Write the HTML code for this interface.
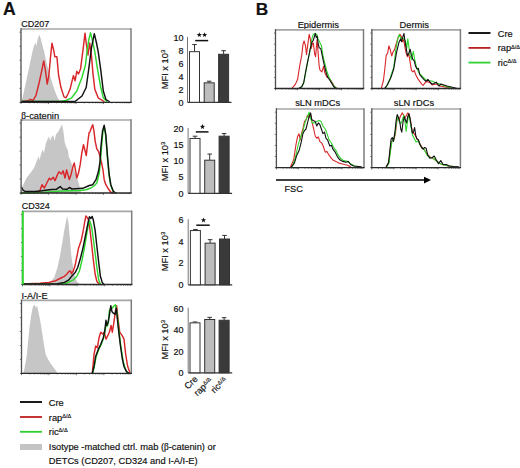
<!DOCTYPE html>
<html><head><meta charset="utf-8"><style>
html,body{margin:0;padding:0;background:#fff;}
svg{display:block;}
text{font-family:"Liberation Sans", sans-serif;fill:#111;stroke:#111;stroke-width:0.18px;}
</style></head><body>
<svg width="520" height="468" viewBox="0 0 520 468">
<rect width="520" height="468" fill="#fff"/>
<text x="2.9" y="14.5" font-size="17.6" text-anchor="start" font-weight="bold" >A</text>
<text x="255.8" y="14.6" font-size="17.3" text-anchor="start" font-weight="bold" >B</text>
<text x="21.3" y="27.2" font-size="9" text-anchor="start" font-weight="normal" >CD207</text>
<polygon points="21.0,102.3 22.4,98.5 25.6,84.0 28.6,70.0 30.8,59.5 32.8,50.0 34.3,45.0 35.2,42.5 36.3,46.0 37.5,40.0 38.4,37.0 39.4,34.4 40.5,38.0 41.3,41.0 42.4,45.0 43.2,48.5 44.2,51.5 45.3,57.0 46.8,64.0 49.4,74.0 52.0,82.0 54.5,90.0 57.7,98.0 60.0,101.0 61.5,102.3" fill="#c6c6c6" stroke="none"/>
<text x="21.3" y="119.2" font-size="9.3" text-anchor="start" font-weight="normal" ><tspan font-family="Liberation Serif">β</tspan>-catenin</text>
<polygon points="21.3,193.0 21.6,188.0 26.5,178.0 31.4,171.7 34.6,166.8 37.0,160.3 38.7,156.0 39.5,160.3 41.1,153.8 42.8,149.5 44.0,153.0 45.7,144.0 47.6,139.1 49.0,136.5 50.0,140.8 51.7,136.7 53.3,134.9 54.5,140.8 56.1,134.3 58.2,131.8 60.3,127.8 62.0,124.3 63.6,132.6 64.7,142.4 66.3,147.3 68.0,150.5 68.8,157.0 70.4,160.3 72.8,166.8 75.3,173.3 77.7,179.8 79.2,185.0 80.3,190.0 81.0,193.0" fill="#c6c6c6" stroke="none"/>
<text x="21.8" y="209.2" font-size="9" text-anchor="start" font-weight="normal" >CD324</text>
<polygon points="47.0,284.5 48.5,283.0 51.0,281.0 54.0,278.0 57.5,267.5 60.1,255.3 62.8,239.5 64.5,229.0 66.3,220.3 67.1,215.9 68.4,222.0 69.8,237.8 71.5,257.0 72.9,265.8 74.1,274.5 76.8,281.5 80.3,284.5" fill="#c6c6c6" stroke="none"/>
<text x="21.5" y="298.6" font-size="9.2" text-anchor="start" font-weight="normal" >I-A/I-E</text>
<polygon points="23.0,373.4 24.2,369.7 26.7,356.3 28.3,339.7 29.7,326.3 31.3,314.7 33.0,306.3 34.7,304.7 35.8,308.0 37.0,305.5 38.7,313.0 40.3,321.3 42.5,334.7 44.2,346.3 45.8,354.7 48.3,359.7 50.8,363.8 53.3,367.2 55.8,370.5 57.5,373.4" fill="#c6c6c6" stroke="none"/>
<polyline points="22.0,101.5 26.0,101.0 28.0,100.8 30.4,99.3 33.0,100.5 36.0,95.3 39.2,82.5 41.6,71.3 43.7,60.9 45.3,69.7 47.2,84.0 48.8,76.0 50.4,58.4 52.0,43.2 53.7,50.4 54.9,56.8 56.9,56.8 58.5,74.5 60.9,87.3 64.0,96.9 65.9,97.8 68.0,94.0 70.0,89.3 73.4,75.6 75.1,80.7 76.8,71.3 78.5,73.9 80.6,68.7 82.8,51.6 85.0,33.2 86.2,43.0 88.0,55.0 89.7,43.0 91.4,55.0 93.0,73.9 94.8,89.2 98.2,97.8 104.0,101.5" fill="none" stroke="#d8262a" stroke-width="1.45" stroke-linejoin="round" stroke-linecap="round"/>
<polyline points="22.0,101.5 60.0,101.5 66.0,100.5 71.7,97.8 76.8,91.0 82.0,77.3 85.4,65.3 87.0,51.6 88.8,39.7 90.5,32.8 92.2,39.7 94.8,51.6 97.4,68.7 100.8,87.5 103.3,97.8 106.8,101.5" fill="none" stroke="#2fd62f" stroke-width="1.45" stroke-linejoin="round" stroke-linecap="round"/>
<polyline points="22.0,101.5 75.0,101.5 82.0,96.0 86.2,87.5 88.8,68.7 91.4,48.2 94.3,33.7 96.5,43.0 98.2,51.6 100.8,70.4 103.3,91.0 105.9,99.5 109.3,101.5" fill="none" stroke="#111" stroke-width="1.45" stroke-linejoin="round" stroke-linecap="round"/>
<line x1="19.4" y1="102.3" x2="21" y2="102.3" stroke="#666" stroke-width="0.9"/>
<line x1="20" y1="95.3" x2="21" y2="95.3" stroke="#999" stroke-width="0.8"/>
<line x1="19.4" y1="88.3" x2="21" y2="88.3" stroke="#666" stroke-width="0.9"/>
<line x1="20" y1="81.3" x2="21" y2="81.3" stroke="#999" stroke-width="0.8"/>
<line x1="19.4" y1="74.3" x2="21" y2="74.3" stroke="#666" stroke-width="0.9"/>
<line x1="20" y1="67.2" x2="21" y2="67.2" stroke="#999" stroke-width="0.8"/>
<line x1="19.4" y1="60.2" x2="21" y2="60.2" stroke="#666" stroke-width="0.9"/>
<line x1="20" y1="53.2" x2="21" y2="53.2" stroke="#999" stroke-width="0.8"/>
<line x1="19.4" y1="46.2" x2="21" y2="46.2" stroke="#666" stroke-width="0.9"/>
<line x1="20" y1="39.2" x2="21" y2="39.2" stroke="#999" stroke-width="0.8"/>
<line x1="19.4" y1="32.2" x2="21" y2="32.2" stroke="#666" stroke-width="0.9"/>
<line x1="21.0" y1="102.3" x2="21.0" y2="104.1" stroke="#555" stroke-width="0.8"/>
<line x1="29.3" y1="102.3" x2="29.3" y2="103.39999999999999" stroke="#555" stroke-width="0.8"/>
<line x1="34.1" y1="102.3" x2="34.1" y2="103.39999999999999" stroke="#555" stroke-width="0.8"/>
<line x1="37.6" y1="102.3" x2="37.6" y2="103.39999999999999" stroke="#555" stroke-width="0.8"/>
<line x1="40.2" y1="102.3" x2="40.2" y2="103.39999999999999" stroke="#555" stroke-width="0.8"/>
<line x1="42.4" y1="102.3" x2="42.4" y2="103.39999999999999" stroke="#555" stroke-width="0.8"/>
<line x1="44.2" y1="102.3" x2="44.2" y2="103.39999999999999" stroke="#555" stroke-width="0.8"/>
<line x1="45.8" y1="102.3" x2="45.8" y2="103.39999999999999" stroke="#555" stroke-width="0.8"/>
<line x1="47.2" y1="102.3" x2="47.2" y2="103.39999999999999" stroke="#555" stroke-width="0.8"/>
<line x1="48.5" y1="102.3" x2="48.5" y2="104.1" stroke="#555" stroke-width="0.8"/>
<line x1="56.8" y1="102.3" x2="56.8" y2="103.39999999999999" stroke="#555" stroke-width="0.8"/>
<line x1="61.6" y1="102.3" x2="61.6" y2="103.39999999999999" stroke="#555" stroke-width="0.8"/>
<line x1="65.1" y1="102.3" x2="65.1" y2="103.39999999999999" stroke="#555" stroke-width="0.8"/>
<line x1="67.7" y1="102.3" x2="67.7" y2="103.39999999999999" stroke="#555" stroke-width="0.8"/>
<line x1="69.9" y1="102.3" x2="69.9" y2="103.39999999999999" stroke="#555" stroke-width="0.8"/>
<line x1="71.7" y1="102.3" x2="71.7" y2="103.39999999999999" stroke="#555" stroke-width="0.8"/>
<line x1="73.3" y1="102.3" x2="73.3" y2="103.39999999999999" stroke="#555" stroke-width="0.8"/>
<line x1="74.7" y1="102.3" x2="74.7" y2="103.39999999999999" stroke="#555" stroke-width="0.8"/>
<line x1="76.0" y1="102.3" x2="76.0" y2="104.1" stroke="#555" stroke-width="0.8"/>
<line x1="84.3" y1="102.3" x2="84.3" y2="103.39999999999999" stroke="#555" stroke-width="0.8"/>
<line x1="89.1" y1="102.3" x2="89.1" y2="103.39999999999999" stroke="#555" stroke-width="0.8"/>
<line x1="92.6" y1="102.3" x2="92.6" y2="103.39999999999999" stroke="#555" stroke-width="0.8"/>
<line x1="95.2" y1="102.3" x2="95.2" y2="103.39999999999999" stroke="#555" stroke-width="0.8"/>
<line x1="97.4" y1="102.3" x2="97.4" y2="103.39999999999999" stroke="#555" stroke-width="0.8"/>
<line x1="99.2" y1="102.3" x2="99.2" y2="103.39999999999999" stroke="#555" stroke-width="0.8"/>
<line x1="100.8" y1="102.3" x2="100.8" y2="103.39999999999999" stroke="#555" stroke-width="0.8"/>
<line x1="102.2" y1="102.3" x2="102.2" y2="103.39999999999999" stroke="#555" stroke-width="0.8"/>
<line x1="103.5" y1="102.3" x2="103.5" y2="104.1" stroke="#555" stroke-width="0.8"/>
<line x1="111.8" y1="102.3" x2="111.8" y2="103.39999999999999" stroke="#555" stroke-width="0.8"/>
<line x1="116.6" y1="102.3" x2="116.6" y2="103.39999999999999" stroke="#555" stroke-width="0.8"/>
<line x1="120.1" y1="102.3" x2="120.1" y2="103.39999999999999" stroke="#555" stroke-width="0.8"/>
<line x1="122.7" y1="102.3" x2="122.7" y2="103.39999999999999" stroke="#555" stroke-width="0.8"/>
<line x1="124.9" y1="102.3" x2="124.9" y2="103.39999999999999" stroke="#555" stroke-width="0.8"/>
<line x1="126.7" y1="102.3" x2="126.7" y2="103.39999999999999" stroke="#555" stroke-width="0.8"/>
<line x1="128.3" y1="102.3" x2="128.3" y2="103.39999999999999" stroke="#555" stroke-width="0.8"/>
<line x1="129.7" y1="102.3" x2="129.7" y2="103.39999999999999" stroke="#555" stroke-width="0.8"/>
<line x1="21" y1="29" x2="131" y2="29" stroke="#a6a6a6" stroke-width="1.6"/>
<line x1="131" y1="28.2" x2="131" y2="102.3" stroke="#7c7c7c" stroke-width="1.5"/>
<line x1="21" y1="28.2" x2="21" y2="102.89999999999999" stroke="#505050" stroke-width="1.3"/>
<line x1="20.4" y1="102.3" x2="131.7" y2="102.3" stroke="#2a2a2a" stroke-width="1.3"/>
<polyline points="22.0,193.0 38.0,192.5 39.5,192.0 42.0,184.7 44.4,188.0 46.8,183.0 49.3,178.2 50.9,179.8 53.3,177.3 55.0,180.6 57.4,174.9 59.0,171.7 61.5,174.0 63.1,170.8 65.0,178.0 66.6,170.0 68.0,175.0 69.3,179.5 71.0,174.7 73.0,166.3 74.3,163.0 75.7,171.3 76.8,178.0 78.5,173.0 80.2,164.7 81.8,153.0 83.5,144.7 85.2,151.3 86.3,155.5 87.7,143.0 89.0,133.0 90.2,131.3 91.3,128.0 92.7,124.7 94.0,131.3 95.2,141.3 96.8,148.8 98.5,151.3 100.0,156.3 101.8,164.0 103.0,170.0 104.2,179.7 105.8,184.7 108.3,188.8 110.8,192.2 113.0,193.0" fill="none" stroke="#d8262a" stroke-width="1.45" stroke-linejoin="round" stroke-linecap="round"/>
<polyline points="22.0,193.0 45.0,192.2 55.0,191.5 62.0,191.0 70.0,190.8 80.0,190.5 86.0,189.7 91.0,188.0 94.0,186.0 96.8,183.0 99.3,173.0 100.5,160.0 101.7,145.0 103.0,131.0 104.2,127.0 105.6,134.7 107.3,156.3 109.0,174.7 110.6,184.7 113.0,191.3 115.5,193.0" fill="none" stroke="#2fd62f" stroke-width="1.45" stroke-linejoin="round" stroke-linecap="round"/>
<polyline points="21.6,187.5 23.0,190.0 25.0,191.5 35.0,191.5 42.0,190.8 51.5,189.5 56.6,189.2 60.2,186.6 62.6,189.0 67.2,189.3 69.3,187.5 72.0,189.0 82.7,188.3 89.3,185.5 92.7,184.7 96.0,179.7 98.5,171.3 100.0,162.0 100.8,148.0 102.5,131.3 104.2,125.3 105.8,134.7 107.5,156.3 109.2,174.7 110.8,184.7 113.3,191.3 115.8,193.0" fill="none" stroke="#111" stroke-width="1.45" stroke-linejoin="round" stroke-linecap="round"/>
<line x1="19.5" y1="193.0" x2="21.1" y2="193.0" stroke="#666" stroke-width="0.9"/>
<line x1="20.1" y1="186.0" x2="21.1" y2="186.0" stroke="#999" stroke-width="0.8"/>
<line x1="19.5" y1="179.0" x2="21.1" y2="179.0" stroke="#666" stroke-width="0.9"/>
<line x1="20.1" y1="172.1" x2="21.1" y2="172.1" stroke="#999" stroke-width="0.8"/>
<line x1="19.5" y1="165.1" x2="21.1" y2="165.1" stroke="#666" stroke-width="0.9"/>
<line x1="20.1" y1="158.1" x2="21.1" y2="158.1" stroke="#999" stroke-width="0.8"/>
<line x1="19.5" y1="151.1" x2="21.1" y2="151.1" stroke="#666" stroke-width="0.9"/>
<line x1="20.1" y1="144.1" x2="21.1" y2="144.1" stroke="#999" stroke-width="0.8"/>
<line x1="19.5" y1="137.2" x2="21.1" y2="137.2" stroke="#666" stroke-width="0.9"/>
<line x1="20.1" y1="130.2" x2="21.1" y2="130.2" stroke="#999" stroke-width="0.8"/>
<line x1="19.5" y1="123.2" x2="21.1" y2="123.2" stroke="#666" stroke-width="0.9"/>
<line x1="21.1" y1="193" x2="21.1" y2="194.8" stroke="#555" stroke-width="0.8"/>
<line x1="29.4" y1="193" x2="29.4" y2="194.1" stroke="#555" stroke-width="0.8"/>
<line x1="34.2" y1="193" x2="34.2" y2="194.1" stroke="#555" stroke-width="0.8"/>
<line x1="37.6" y1="193" x2="37.6" y2="194.1" stroke="#555" stroke-width="0.8"/>
<line x1="40.3" y1="193" x2="40.3" y2="194.1" stroke="#555" stroke-width="0.8"/>
<line x1="42.5" y1="193" x2="42.5" y2="194.1" stroke="#555" stroke-width="0.8"/>
<line x1="44.3" y1="193" x2="44.3" y2="194.1" stroke="#555" stroke-width="0.8"/>
<line x1="45.9" y1="193" x2="45.9" y2="194.1" stroke="#555" stroke-width="0.8"/>
<line x1="47.3" y1="193" x2="47.3" y2="194.1" stroke="#555" stroke-width="0.8"/>
<line x1="48.6" y1="193" x2="48.6" y2="194.8" stroke="#555" stroke-width="0.8"/>
<line x1="56.8" y1="193" x2="56.8" y2="194.1" stroke="#555" stroke-width="0.8"/>
<line x1="61.7" y1="193" x2="61.7" y2="194.1" stroke="#555" stroke-width="0.8"/>
<line x1="65.1" y1="193" x2="65.1" y2="194.1" stroke="#555" stroke-width="0.8"/>
<line x1="67.8" y1="193" x2="67.8" y2="194.1" stroke="#555" stroke-width="0.8"/>
<line x1="70.0" y1="193" x2="70.0" y2="194.1" stroke="#555" stroke-width="0.8"/>
<line x1="71.8" y1="193" x2="71.8" y2="194.1" stroke="#555" stroke-width="0.8"/>
<line x1="73.4" y1="193" x2="73.4" y2="194.1" stroke="#555" stroke-width="0.8"/>
<line x1="74.8" y1="193" x2="74.8" y2="194.1" stroke="#555" stroke-width="0.8"/>
<line x1="76.1" y1="193" x2="76.1" y2="194.8" stroke="#555" stroke-width="0.8"/>
<line x1="84.3" y1="193" x2="84.3" y2="194.1" stroke="#555" stroke-width="0.8"/>
<line x1="89.2" y1="193" x2="89.2" y2="194.1" stroke="#555" stroke-width="0.8"/>
<line x1="92.6" y1="193" x2="92.6" y2="194.1" stroke="#555" stroke-width="0.8"/>
<line x1="95.3" y1="193" x2="95.3" y2="194.1" stroke="#555" stroke-width="0.8"/>
<line x1="97.4" y1="193" x2="97.4" y2="194.1" stroke="#555" stroke-width="0.8"/>
<line x1="99.3" y1="193" x2="99.3" y2="194.1" stroke="#555" stroke-width="0.8"/>
<line x1="100.9" y1="193" x2="100.9" y2="194.1" stroke="#555" stroke-width="0.8"/>
<line x1="102.3" y1="193" x2="102.3" y2="194.1" stroke="#555" stroke-width="0.8"/>
<line x1="103.5" y1="193" x2="103.5" y2="194.8" stroke="#555" stroke-width="0.8"/>
<line x1="111.8" y1="193" x2="111.8" y2="194.1" stroke="#555" stroke-width="0.8"/>
<line x1="116.6" y1="193" x2="116.6" y2="194.1" stroke="#555" stroke-width="0.8"/>
<line x1="120.1" y1="193" x2="120.1" y2="194.1" stroke="#555" stroke-width="0.8"/>
<line x1="122.7" y1="193" x2="122.7" y2="194.1" stroke="#555" stroke-width="0.8"/>
<line x1="124.9" y1="193" x2="124.9" y2="194.1" stroke="#555" stroke-width="0.8"/>
<line x1="126.7" y1="193" x2="126.7" y2="194.1" stroke="#555" stroke-width="0.8"/>
<line x1="128.3" y1="193" x2="128.3" y2="194.1" stroke="#555" stroke-width="0.8"/>
<line x1="129.7" y1="193" x2="129.7" y2="194.1" stroke="#555" stroke-width="0.8"/>
<line x1="21.1" y1="120" x2="131" y2="120" stroke="#a6a6a6" stroke-width="1.6"/>
<line x1="131" y1="119.2" x2="131" y2="193" stroke="#7c7c7c" stroke-width="1.5"/>
<line x1="21.1" y1="119.2" x2="21.1" y2="193.6" stroke="#505050" stroke-width="1.3"/>
<line x1="20.5" y1="193" x2="131.7" y2="193" stroke="#2a2a2a" stroke-width="1.3"/>
<polyline points="23.0,284.0 40.0,283.3 48.8,282.4 55.8,280.7 61.0,278.0 64.5,276.3 67.1,273.7 69.4,271.0 70.6,271.2 71.5,273.7 73.3,271.0 75.0,265.8 76.8,257.0 78.5,248.3 81.2,240.4 82.9,232.5 84.7,222.0 85.9,215.9 87.3,217.6 88.7,220.3 89.9,229.0 91.7,244.8 93.4,260.5 95.2,274.5 96.9,281.5 99.5,284.3" fill="none" stroke="#d8262a" stroke-width="1.45" stroke-linejoin="round" stroke-linecap="round"/>
<polyline points="24.0,284.3 55.0,284.0 66.3,283.3 73.3,279.8 76.8,276.3 79.4,271.0 82.0,260.5 84.7,246.5 86.4,236.0 88.2,225.5 89.9,221.1 91.7,227.3 93.4,239.5 95.2,253.5 96.9,267.5 98.7,279.8 100.4,284.3" fill="none" stroke="#2fd62f" stroke-width="1.45" stroke-linejoin="round" stroke-linecap="round"/>
<polyline points="24.0,284.0 45.0,284.0 57.5,283.7 64.5,282.4 68.9,279.8 72.4,275.4 75.0,272.8 77.7,267.5 80.3,258.8 82.9,248.3 84.7,239.5 86.4,230.8 88.2,222.0 89.4,216.8 90.8,218.5 92.2,216.4 93.4,220.3 95.2,230.8 96.9,246.5 98.7,262.3 100.4,276.3 102.2,282.4 103.9,284.3" fill="none" stroke="#111" stroke-width="1.45" stroke-linejoin="round" stroke-linecap="round"/>
<line x1="20.9" y1="284.5" x2="22.5" y2="284.5" stroke="#666" stroke-width="0.9"/>
<line x1="21.5" y1="277.5" x2="22.5" y2="277.5" stroke="#999" stroke-width="0.8"/>
<line x1="20.9" y1="270.5" x2="22.5" y2="270.5" stroke="#666" stroke-width="0.9"/>
<line x1="21.5" y1="263.5" x2="22.5" y2="263.5" stroke="#999" stroke-width="0.8"/>
<line x1="20.9" y1="256.5" x2="22.5" y2="256.5" stroke="#666" stroke-width="0.9"/>
<line x1="21.5" y1="249.6" x2="22.5" y2="249.6" stroke="#999" stroke-width="0.8"/>
<line x1="20.9" y1="242.6" x2="22.5" y2="242.6" stroke="#666" stroke-width="0.9"/>
<line x1="21.5" y1="235.6" x2="22.5" y2="235.6" stroke="#999" stroke-width="0.8"/>
<line x1="20.9" y1="228.6" x2="22.5" y2="228.6" stroke="#666" stroke-width="0.9"/>
<line x1="21.5" y1="221.6" x2="22.5" y2="221.6" stroke="#999" stroke-width="0.8"/>
<line x1="20.9" y1="214.6" x2="22.5" y2="214.6" stroke="#666" stroke-width="0.9"/>
<line x1="22.5" y1="284.5" x2="22.5" y2="286.3" stroke="#555" stroke-width="0.8"/>
<line x1="30.7" y1="284.5" x2="30.7" y2="285.6" stroke="#555" stroke-width="0.8"/>
<line x1="35.5" y1="284.5" x2="35.5" y2="285.6" stroke="#555" stroke-width="0.8"/>
<line x1="38.9" y1="284.5" x2="38.9" y2="285.6" stroke="#555" stroke-width="0.8"/>
<line x1="41.6" y1="284.5" x2="41.6" y2="285.6" stroke="#555" stroke-width="0.8"/>
<line x1="43.7" y1="284.5" x2="43.7" y2="285.6" stroke="#555" stroke-width="0.8"/>
<line x1="45.6" y1="284.5" x2="45.6" y2="285.6" stroke="#555" stroke-width="0.8"/>
<line x1="47.2" y1="284.5" x2="47.2" y2="285.6" stroke="#555" stroke-width="0.8"/>
<line x1="48.6" y1="284.5" x2="48.6" y2="285.6" stroke="#555" stroke-width="0.8"/>
<line x1="49.8" y1="284.5" x2="49.8" y2="286.3" stroke="#555" stroke-width="0.8"/>
<line x1="58.0" y1="284.5" x2="58.0" y2="285.6" stroke="#555" stroke-width="0.8"/>
<line x1="62.8" y1="284.5" x2="62.8" y2="285.6" stroke="#555" stroke-width="0.8"/>
<line x1="66.2" y1="284.5" x2="66.2" y2="285.6" stroke="#555" stroke-width="0.8"/>
<line x1="68.9" y1="284.5" x2="68.9" y2="285.6" stroke="#555" stroke-width="0.8"/>
<line x1="71.0" y1="284.5" x2="71.0" y2="285.6" stroke="#555" stroke-width="0.8"/>
<line x1="72.9" y1="284.5" x2="72.9" y2="285.6" stroke="#555" stroke-width="0.8"/>
<line x1="74.5" y1="284.5" x2="74.5" y2="285.6" stroke="#555" stroke-width="0.8"/>
<line x1="75.9" y1="284.5" x2="75.9" y2="285.6" stroke="#555" stroke-width="0.8"/>
<line x1="77.1" y1="284.5" x2="77.1" y2="286.3" stroke="#555" stroke-width="0.8"/>
<line x1="85.3" y1="284.5" x2="85.3" y2="285.6" stroke="#555" stroke-width="0.8"/>
<line x1="90.1" y1="284.5" x2="90.1" y2="285.6" stroke="#555" stroke-width="0.8"/>
<line x1="93.5" y1="284.5" x2="93.5" y2="285.6" stroke="#555" stroke-width="0.8"/>
<line x1="96.2" y1="284.5" x2="96.2" y2="285.6" stroke="#555" stroke-width="0.8"/>
<line x1="98.3" y1="284.5" x2="98.3" y2="285.6" stroke="#555" stroke-width="0.8"/>
<line x1="100.2" y1="284.5" x2="100.2" y2="285.6" stroke="#555" stroke-width="0.8"/>
<line x1="101.8" y1="284.5" x2="101.8" y2="285.6" stroke="#555" stroke-width="0.8"/>
<line x1="103.2" y1="284.5" x2="103.2" y2="285.6" stroke="#555" stroke-width="0.8"/>
<line x1="104.4" y1="284.5" x2="104.4" y2="286.3" stroke="#555" stroke-width="0.8"/>
<line x1="112.6" y1="284.5" x2="112.6" y2="285.6" stroke="#555" stroke-width="0.8"/>
<line x1="117.4" y1="284.5" x2="117.4" y2="285.6" stroke="#555" stroke-width="0.8"/>
<line x1="120.8" y1="284.5" x2="120.8" y2="285.6" stroke="#555" stroke-width="0.8"/>
<line x1="123.5" y1="284.5" x2="123.5" y2="285.6" stroke="#555" stroke-width="0.8"/>
<line x1="125.6" y1="284.5" x2="125.6" y2="285.6" stroke="#555" stroke-width="0.8"/>
<line x1="127.5" y1="284.5" x2="127.5" y2="285.6" stroke="#555" stroke-width="0.8"/>
<line x1="129.1" y1="284.5" x2="129.1" y2="285.6" stroke="#555" stroke-width="0.8"/>
<line x1="130.5" y1="284.5" x2="130.5" y2="285.6" stroke="#555" stroke-width="0.8"/>
<line x1="22.5" y1="211.4" x2="131.7" y2="211.4" stroke="#a6a6a6" stroke-width="1.6"/>
<line x1="131.7" y1="210.6" x2="131.7" y2="284.5" stroke="#7c7c7c" stroke-width="1.5"/>
<line x1="22.5" y1="210.6" x2="22.5" y2="285.1" stroke="#505050" stroke-width="1.3"/>
<line x1="21.9" y1="284.5" x2="132.39999999999998" y2="284.5" stroke="#2a2a2a" stroke-width="1.3"/>
<polyline points="92.3,373.3 94.0,354.5 95.7,346.0 97.4,347.7 99.1,337.4 100.8,332.2 102.6,334.0 104.3,332.2 106.0,339.1 107.7,335.7 109.4,332.2 111.1,325.4 112.3,332.2 113.7,323.7 115.4,311.7 116.6,305.7 118.0,318.5 119.7,332.2 122.2,335.7 124.0,339.1 125.7,354.5 127.7,366.5 130.0,372.8" fill="none" stroke="#d8262a" stroke-width="1.45" stroke-linejoin="round" stroke-linecap="round"/>
<polyline points="92.5,373.3 94.2,367.0 96.0,357.0 98.5,350.0 101.0,345.0 103.5,338.0 105.0,331.0 106.5,323.0 107.5,326.0 108.5,321.0 109.4,310.0 111.0,309.0 112.8,307.4 114.0,306.0 115.4,304.8 117.1,313.4 118.5,327.1 120.5,344.2 123.1,361.4 125.7,369.9 128.0,373.3" fill="none" stroke="#2fd62f" stroke-width="1.45" stroke-linejoin="round" stroke-linecap="round"/>
<polyline points="92.3,373.3 94.0,366.5 95.7,356.2 98.3,349.4 100.8,344.2 103.4,337.4 104.8,330.5 106.0,320.3 106.8,325.4 108.2,322.0 109.4,315.1 110.8,305.7 112.0,311.7 113.7,313.4 115.0,314.3 116.3,308.3 117.5,320.3 118.8,332.2 120.5,346.0 122.2,358.0 124.0,366.5 126.5,371.6 129.1,373.3" fill="none" stroke="#111" stroke-width="1.45" stroke-linejoin="round" stroke-linecap="round"/>
<line x1="19.9" y1="373.4" x2="21.5" y2="373.4" stroke="#666" stroke-width="0.9"/>
<line x1="20.5" y1="366.4" x2="21.5" y2="366.4" stroke="#999" stroke-width="0.8"/>
<line x1="19.9" y1="359.4" x2="21.5" y2="359.4" stroke="#666" stroke-width="0.9"/>
<line x1="20.5" y1="352.5" x2="21.5" y2="352.5" stroke="#999" stroke-width="0.8"/>
<line x1="19.9" y1="345.5" x2="21.5" y2="345.5" stroke="#666" stroke-width="0.9"/>
<line x1="20.5" y1="338.5" x2="21.5" y2="338.5" stroke="#999" stroke-width="0.8"/>
<line x1="19.9" y1="331.5" x2="21.5" y2="331.5" stroke="#666" stroke-width="0.9"/>
<line x1="20.5" y1="324.5" x2="21.5" y2="324.5" stroke="#999" stroke-width="0.8"/>
<line x1="19.9" y1="317.6" x2="21.5" y2="317.6" stroke="#666" stroke-width="0.9"/>
<line x1="20.5" y1="310.6" x2="21.5" y2="310.6" stroke="#999" stroke-width="0.8"/>
<line x1="19.9" y1="303.6" x2="21.5" y2="303.6" stroke="#666" stroke-width="0.9"/>
<line x1="21.5" y1="373.4" x2="21.5" y2="375.2" stroke="#555" stroke-width="0.8"/>
<line x1="29.8" y1="373.4" x2="29.8" y2="374.5" stroke="#555" stroke-width="0.8"/>
<line x1="34.6" y1="373.4" x2="34.6" y2="374.5" stroke="#555" stroke-width="0.8"/>
<line x1="38.0" y1="373.4" x2="38.0" y2="374.5" stroke="#555" stroke-width="0.8"/>
<line x1="40.7" y1="373.4" x2="40.7" y2="374.5" stroke="#555" stroke-width="0.8"/>
<line x1="42.9" y1="373.4" x2="42.9" y2="374.5" stroke="#555" stroke-width="0.8"/>
<line x1="44.7" y1="373.4" x2="44.7" y2="374.5" stroke="#555" stroke-width="0.8"/>
<line x1="46.3" y1="373.4" x2="46.3" y2="374.5" stroke="#555" stroke-width="0.8"/>
<line x1="47.7" y1="373.4" x2="47.7" y2="374.5" stroke="#555" stroke-width="0.8"/>
<line x1="49.0" y1="373.4" x2="49.0" y2="375.2" stroke="#555" stroke-width="0.8"/>
<line x1="57.2" y1="373.4" x2="57.2" y2="374.5" stroke="#555" stroke-width="0.8"/>
<line x1="62.0" y1="373.4" x2="62.0" y2="374.5" stroke="#555" stroke-width="0.8"/>
<line x1="65.5" y1="373.4" x2="65.5" y2="374.5" stroke="#555" stroke-width="0.8"/>
<line x1="68.1" y1="373.4" x2="68.1" y2="374.5" stroke="#555" stroke-width="0.8"/>
<line x1="70.3" y1="373.4" x2="70.3" y2="374.5" stroke="#555" stroke-width="0.8"/>
<line x1="72.1" y1="373.4" x2="72.1" y2="374.5" stroke="#555" stroke-width="0.8"/>
<line x1="73.7" y1="373.4" x2="73.7" y2="374.5" stroke="#555" stroke-width="0.8"/>
<line x1="75.1" y1="373.4" x2="75.1" y2="374.5" stroke="#555" stroke-width="0.8"/>
<line x1="76.4" y1="373.4" x2="76.4" y2="375.2" stroke="#555" stroke-width="0.8"/>
<line x1="84.7" y1="373.4" x2="84.7" y2="374.5" stroke="#555" stroke-width="0.8"/>
<line x1="89.5" y1="373.4" x2="89.5" y2="374.5" stroke="#555" stroke-width="0.8"/>
<line x1="92.9" y1="373.4" x2="92.9" y2="374.5" stroke="#555" stroke-width="0.8"/>
<line x1="95.6" y1="373.4" x2="95.6" y2="374.5" stroke="#555" stroke-width="0.8"/>
<line x1="97.8" y1="373.4" x2="97.8" y2="374.5" stroke="#555" stroke-width="0.8"/>
<line x1="99.6" y1="373.4" x2="99.6" y2="374.5" stroke="#555" stroke-width="0.8"/>
<line x1="101.2" y1="373.4" x2="101.2" y2="374.5" stroke="#555" stroke-width="0.8"/>
<line x1="102.6" y1="373.4" x2="102.6" y2="374.5" stroke="#555" stroke-width="0.8"/>
<line x1="103.9" y1="373.4" x2="103.9" y2="375.2" stroke="#555" stroke-width="0.8"/>
<line x1="112.1" y1="373.4" x2="112.1" y2="374.5" stroke="#555" stroke-width="0.8"/>
<line x1="116.9" y1="373.4" x2="116.9" y2="374.5" stroke="#555" stroke-width="0.8"/>
<line x1="120.4" y1="373.4" x2="120.4" y2="374.5" stroke="#555" stroke-width="0.8"/>
<line x1="123.0" y1="373.4" x2="123.0" y2="374.5" stroke="#555" stroke-width="0.8"/>
<line x1="125.2" y1="373.4" x2="125.2" y2="374.5" stroke="#555" stroke-width="0.8"/>
<line x1="127.0" y1="373.4" x2="127.0" y2="374.5" stroke="#555" stroke-width="0.8"/>
<line x1="128.6" y1="373.4" x2="128.6" y2="374.5" stroke="#555" stroke-width="0.8"/>
<line x1="130.0" y1="373.4" x2="130.0" y2="374.5" stroke="#555" stroke-width="0.8"/>
<line x1="21.5" y1="300.4" x2="131.3" y2="300.4" stroke="#a6a6a6" stroke-width="1.6"/>
<line x1="131.3" y1="299.59999999999997" x2="131.3" y2="373.4" stroke="#7c7c7c" stroke-width="1.5"/>
<line x1="21.5" y1="299.59999999999997" x2="21.5" y2="374.0" stroke="#505050" stroke-width="1.3"/>
<line x1="20.9" y1="373.4" x2="132.0" y2="373.4" stroke="#2a2a2a" stroke-width="1.3"/>
<line x1="22.8" y1="211" x2="22.8" y2="284.5" stroke="#2fd62f" stroke-width="2"/>
<line x1="187.5" y1="36.9" x2="187.5" y2="102.3" stroke="#777" stroke-width="1"/>
<line x1="187.5" y1="102.3" x2="231.5" y2="102.3" stroke="#333" stroke-width="1.2"/>
<text x="183.6" y="105.6" font-size="9" text-anchor="end" font-weight="normal" >0</text>
<text x="183.6" y="92.61999999999999" font-size="9" text-anchor="end" font-weight="normal" >2</text>
<text x="183.6" y="79.64" font-size="9" text-anchor="end" font-weight="normal" >4</text>
<text x="183.6" y="66.66" font-size="9" text-anchor="end" font-weight="normal" >6</text>
<text x="183.6" y="53.67999999999999" font-size="9" text-anchor="end" font-weight="normal" >8</text>
<text x="183.6" y="40.69999999999999" font-size="9" text-anchor="end" font-weight="normal" >10</text>
<line x1="194.5" y1="44.538999999999994" x2="194.5" y2="51.678" stroke="#333" stroke-width="1"/>
<line x1="192.2" y1="44.538999999999994" x2="196.8" y2="44.538999999999994" stroke="#333" stroke-width="1"/>
<rect x="189.5" y="51.678" width="10.0" height="50.622" fill="#fff" stroke="#333" stroke-width="1"/>
<line x1="209.2" y1="81.2075" x2="209.2" y2="82.83" stroke="#333" stroke-width="1"/>
<line x1="206.89999999999998" y1="81.2075" x2="211.5" y2="81.2075" stroke="#333" stroke-width="1"/>
<rect x="204.2" y="82.83" width="10.0" height="19.47" fill="#bdbdbd" stroke="#333" stroke-width="1"/>
<line x1="223.6" y1="50.704499999999996" x2="223.6" y2="54.273999999999994" stroke="#333" stroke-width="1"/>
<line x1="221.29999999999998" y1="50.704499999999996" x2="225.9" y2="50.704499999999996" stroke="#333" stroke-width="1"/>
<rect x="218.6" y="54.273999999999994" width="10.0" height="48.026" fill="#3a3a3a" stroke="#333" stroke-width="1"/>
<line x1="195.2" y1="40.6" x2="208.2" y2="40.6" stroke="#111" stroke-width="1.5"/>
<polygon points="199.3,32.2 200.0,34.0 201.9,34.1 200.4,35.3 200.9,37.1 199.3,36.0 197.7,37.1 198.2,35.3 196.7,34.1 198.6,34.0" fill="#111"/>
<polygon points="204.6,32.2 205.3,34.0 207.2,34.1 205.7,35.3 206.2,37.1 204.6,36.0 203.0,37.1 203.5,35.3 202.0,34.1 203.9,34.0" fill="#111"/>
<text transform="translate(168.3,69.5) rotate(-90)" font-size="9.3" text-anchor="middle">MFI x 10<tspan font-size="6" dy="-3.5">3</tspan></text>
<line x1="188.1" y1="127.9" x2="188.1" y2="193.3" stroke="#777" stroke-width="1"/>
<line x1="188.1" y1="193.3" x2="232.1" y2="193.3" stroke="#333" stroke-width="1.2"/>
<text x="183.6" y="196.60000000000002" font-size="9" text-anchor="end" font-weight="normal" >0</text>
<text x="183.6" y="180.37500000000003" font-size="9" text-anchor="end" font-weight="normal" >5</text>
<text x="183.6" y="164.15000000000003" font-size="9" text-anchor="end" font-weight="normal" >10</text>
<text x="183.6" y="147.925" font-size="9" text-anchor="end" font-weight="normal" >15</text>
<text x="183.6" y="131.70000000000002" font-size="9" text-anchor="end" font-weight="normal" >20</text>
<line x1="195.0" y1="136.18800000000002" x2="195.0" y2="138.45950000000002" stroke="#333" stroke-width="1"/>
<line x1="192.7" y1="136.18800000000002" x2="197.3" y2="136.18800000000002" stroke="#333" stroke-width="1"/>
<rect x="190.0" y="138.45950000000002" width="10.0" height="54.84049999999999" fill="#fff" stroke="#333" stroke-width="1"/>
<line x1="209.7" y1="154.0355" x2="209.7" y2="160.20100000000002" stroke="#333" stroke-width="1"/>
<line x1="207.39999999999998" y1="154.0355" x2="212.0" y2="154.0355" stroke="#333" stroke-width="1"/>
<rect x="204.7" y="160.20100000000002" width="10.0" height="33.09899999999999" fill="#bdbdbd" stroke="#333" stroke-width="1"/>
<line x1="224.1" y1="133.592" x2="224.1" y2="136.188" stroke="#333" stroke-width="1"/>
<line x1="221.79999999999998" y1="133.592" x2="226.4" y2="133.592" stroke="#333" stroke-width="1"/>
<rect x="219.1" y="136.188" width="10.0" height="57.11200000000002" fill="#3a3a3a" stroke="#333" stroke-width="1"/>
<line x1="195.8" y1="131.9" x2="208.5" y2="131.9" stroke="#111" stroke-width="1.5"/>
<polygon points="202.5,124.0 203.2,125.8 205.1,125.9 203.6,127.1 204.1,128.9 202.5,127.9 200.9,128.9 201.4,127.1 199.9,125.9 201.8,125.8" fill="#111"/>
<text transform="translate(168.3,161.4) rotate(-90)" font-size="9.3" text-anchor="middle">MFI x 10<tspan font-size="6" dy="-3.5">3</tspan></text>
<line x1="188.2" y1="219.2" x2="188.2" y2="284.8" stroke="#777" stroke-width="1"/>
<line x1="188.2" y1="284.8" x2="232.2" y2="284.8" stroke="#333" stroke-width="1.2"/>
<text x="183.6" y="288.1" font-size="9" text-anchor="end" font-weight="normal" >0</text>
<text x="183.6" y="266.40000000000003" font-size="9" text-anchor="end" font-weight="normal" >2</text>
<text x="183.6" y="244.70000000000002" font-size="9" text-anchor="end" font-weight="normal" >4</text>
<text x="183.6" y="223.0" font-size="9" text-anchor="end" font-weight="normal" >6</text>
<line x1="195.4" y1="229.465" x2="195.4" y2="230.55" stroke="#333" stroke-width="1"/>
<line x1="193.1" y1="229.465" x2="197.70000000000002" y2="229.465" stroke="#333" stroke-width="1"/>
<rect x="190.4" y="230.55" width="10.0" height="54.25" fill="#fff" stroke="#333" stroke-width="1"/>
<line x1="210.1" y1="239.664" x2="210.1" y2="243.136" stroke="#333" stroke-width="1"/>
<line x1="207.79999999999998" y1="239.664" x2="212.4" y2="239.664" stroke="#333" stroke-width="1"/>
<rect x="205.1" y="243.136" width="10.0" height="41.664000000000016" fill="#bdbdbd" stroke="#333" stroke-width="1"/>
<line x1="224.5" y1="235.4325" x2="224.5" y2="239.013" stroke="#333" stroke-width="1"/>
<line x1="222.2" y1="235.4325" x2="226.8" y2="235.4325" stroke="#333" stroke-width="1"/>
<rect x="219.5" y="239.013" width="10.0" height="45.787000000000006" fill="#3a3a3a" stroke="#333" stroke-width="1"/>
<line x1="196.3" y1="225.2" x2="209.7" y2="225.2" stroke="#111" stroke-width="1.5"/>
<polygon points="203.5,217.5 204.2,219.3 206.1,219.4 204.6,220.6 205.1,222.4 203.5,221.3 201.9,222.4 202.4,220.6 200.9,219.4 202.8,219.3" fill="#111"/>
<text transform="translate(168.3,251.5) rotate(-90)" font-size="9.3" text-anchor="middle">MFI x 10<tspan font-size="6" dy="-3.5">3</tspan></text>
<line x1="188.2" y1="307.7" x2="188.2" y2="372.8" stroke="#777" stroke-width="1"/>
<line x1="188.2" y1="372.8" x2="232.2" y2="372.8" stroke="#333" stroke-width="1.2"/>
<text x="183.6" y="376.1" font-size="9" text-anchor="end" font-weight="normal" >0</text>
<text x="183.6" y="354.56666666666666" font-size="9" text-anchor="end" font-weight="normal" >20</text>
<text x="183.6" y="333.03333333333336" font-size="9" text-anchor="end" font-weight="normal" >40</text>
<text x="183.6" y="311.5" font-size="9" text-anchor="end" font-weight="normal" >60</text>
<line x1="195.0" y1="321.98133333333334" x2="195.0" y2="322.8426666666667" stroke="#333" stroke-width="1"/>
<line x1="192.7" y1="321.98133333333334" x2="197.3" y2="321.98133333333334" stroke="#333" stroke-width="1"/>
<rect x="190.0" y="322.8426666666667" width="10.0" height="49.95733333333334" fill="#fff" stroke="#333" stroke-width="1"/>
<line x1="209.7" y1="317.35166666666663" x2="209.7" y2="319.505" stroke="#333" stroke-width="1"/>
<line x1="207.39999999999998" y1="317.35166666666663" x2="212.0" y2="317.35166666666663" stroke="#333" stroke-width="1"/>
<rect x="204.7" y="319.505" width="10.0" height="53.295000000000016" fill="#bdbdbd" stroke="#333" stroke-width="1"/>
<line x1="224.1" y1="317.67466666666667" x2="224.1" y2="320.25866666666667" stroke="#333" stroke-width="1"/>
<line x1="221.79999999999998" y1="317.67466666666667" x2="226.4" y2="317.67466666666667" stroke="#333" stroke-width="1"/>
<rect x="219.1" y="320.25866666666667" width="10.0" height="52.54133333333334" fill="#3a3a3a" stroke="#333" stroke-width="1"/>
<text transform="translate(168.3,339.7) rotate(-90)" font-size="9.3" text-anchor="middle">MFI x 10<tspan font-size="6" dy="-3.5">3</tspan></text>
<text transform="translate(198.2,379.6) rotate(-45)" font-size="9" text-anchor="end">Cre</text>
<text transform="translate(213.2,381) rotate(-45)" font-size="9" text-anchor="end">rap<tspan font-size="5.6" dy="-2.5">Δ/Δ</tspan></text>
<text transform="translate(227.6,380.6) rotate(-45)" font-size="9" text-anchor="end">ric<tspan font-size="5.6" dy="-2.5">Δ/Δ</tspan></text>
<line x1="20" y1="402" x2="42" y2="402" stroke="#000" stroke-width="1.8"/>
<line x1="20" y1="417" x2="42" y2="417" stroke="#c01e1e" stroke-width="1.8"/>
<line x1="20" y1="431.8" x2="42" y2="431.8" stroke="#2fd02f" stroke-width="1.8"/>
<rect x="20" y="444" width="22" height="6" fill="#c4c4c4"/>
<text x="48.8" y="405.8" font-size="9.3" text-anchor="start" font-weight="normal" >Cre</text>
<text x="48.8" y="420.6" font-size="9.3" text-anchor="start" font-weight="normal" >rap<tspan font-size="5.6" dy="-2.7">Δ/Δ</tspan></text>
<text x="48.8" y="434.8" font-size="9.3" text-anchor="start" font-weight="normal" >ric<tspan font-size="5.6" dy="-2.7">Δ/Δ</tspan></text>
<text x="48.8" y="450.2" font-size="9.3" text-anchor="start" font-weight="normal" >Isotype -matched ctrl. mab (<tspan font-family="Liberation Serif">β</tspan>-catenin) or</text>
<text x="48.8" y="464.3" font-size="9.3" text-anchor="start" font-weight="normal" >DETCs (CD207, CD324 and I-A/I-E)</text>
<text x="318.3" y="27.6" font-size="9.3" text-anchor="middle" font-weight="normal" >Epidermis</text>
<text x="414.3" y="27.6" font-size="9.3" text-anchor="middle" font-weight="normal" >Dermis</text>
<text x="317.7" y="106.4" font-size="9.3" text-anchor="middle" font-weight="normal" >sLN mDCs</text>
<text x="413.9" y="106.4" font-size="9.3" text-anchor="middle" font-weight="normal" >sLN rDCs</text>
<polyline points="290.0,88.5 292.1,88.2 295.5,84.1 297.6,79.3 299.6,66.3 301.7,55.4 303.0,44.4 304.1,41.0 305.5,45.8 306.5,54.7 307.8,44.4 309.2,34.2 310.3,38.9 311.3,48.5 312.4,43.7 313.3,43.0 314.7,54.0 315.6,56.7 316.5,45.8 317.1,39.6 318.1,52.6 319.2,66.3 320.1,70.4 321.9,71.8 323.6,66.3 324.9,73.1 327.0,77.2 329.0,77.9 331.8,82.0 334.5,86.8 337.2,88.5" fill="none" stroke="#d8262a" stroke-width="1.1" stroke-linejoin="round" stroke-linecap="round"/>
<polyline points="299.5,88.2 302.0,86.5 304.0,82.0 305.5,74.0 307.5,63.0 309.5,53.0 311.0,44.0 311.9,38.9 313.3,34.2 314.7,33.5 316.7,34.2 318.1,38.9 320.1,43.0 321.5,45.8 322.9,55.4 324.9,63.6 327.0,71.8 329.0,77.2 331.8,82.7 334.5,86.8 337.0,88.5" fill="none" stroke="#2fd62f" stroke-width="1.1" stroke-linejoin="round" stroke-linecap="round"/>
<polyline points="299.0,88.2 301.7,86.8 303.7,82.7 305.1,74.5 307.2,63.6 309.2,54.0 310.6,47.2 311.9,42.4 313.3,40.3 314.7,35.5 315.4,33.5 316.3,37.6 317.1,36.2 318.1,43.0 319.2,47.8 320.8,48.5 322.2,55.4 323.6,62.2 324.9,67.7 326.3,73.1 327.7,77.2 329.7,80.0 331.8,83.4 333.8,86.8 335.9,88.5" fill="none" stroke="#111" stroke-width="1.1" stroke-linejoin="round" stroke-linecap="round"/>
<line x1="273.9" y1="88.5" x2="275.5" y2="88.5" stroke="#666" stroke-width="0.9"/>
<line x1="274.5" y1="83.0" x2="275.5" y2="83.0" stroke="#999" stroke-width="0.8"/>
<line x1="273.9" y1="77.4" x2="275.5" y2="77.4" stroke="#666" stroke-width="0.9"/>
<line x1="274.5" y1="71.9" x2="275.5" y2="71.9" stroke="#999" stroke-width="0.8"/>
<line x1="273.9" y1="66.3" x2="275.5" y2="66.3" stroke="#666" stroke-width="0.9"/>
<line x1="274.5" y1="60.8" x2="275.5" y2="60.8" stroke="#999" stroke-width="0.8"/>
<line x1="273.9" y1="55.3" x2="275.5" y2="55.3" stroke="#666" stroke-width="0.9"/>
<line x1="274.5" y1="49.7" x2="275.5" y2="49.7" stroke="#999" stroke-width="0.8"/>
<line x1="273.9" y1="44.2" x2="275.5" y2="44.2" stroke="#666" stroke-width="0.9"/>
<line x1="274.5" y1="38.6" x2="275.5" y2="38.6" stroke="#999" stroke-width="0.8"/>
<line x1="273.9" y1="33.1" x2="275.5" y2="33.1" stroke="#666" stroke-width="0.9"/>
<line x1="275.5" y1="88.5" x2="275.5" y2="90.3" stroke="#555" stroke-width="0.8"/>
<line x1="282.1" y1="88.5" x2="282.1" y2="89.6" stroke="#555" stroke-width="0.8"/>
<line x1="286.0" y1="88.5" x2="286.0" y2="89.6" stroke="#555" stroke-width="0.8"/>
<line x1="288.7" y1="88.5" x2="288.7" y2="89.6" stroke="#555" stroke-width="0.8"/>
<line x1="290.9" y1="88.5" x2="290.9" y2="89.6" stroke="#555" stroke-width="0.8"/>
<line x1="292.6" y1="88.5" x2="292.6" y2="89.6" stroke="#555" stroke-width="0.8"/>
<line x1="294.1" y1="88.5" x2="294.1" y2="89.6" stroke="#555" stroke-width="0.8"/>
<line x1="295.4" y1="88.5" x2="295.4" y2="89.6" stroke="#555" stroke-width="0.8"/>
<line x1="296.5" y1="88.5" x2="296.5" y2="89.6" stroke="#555" stroke-width="0.8"/>
<line x1="297.5" y1="88.5" x2="297.5" y2="90.3" stroke="#555" stroke-width="0.8"/>
<line x1="304.1" y1="88.5" x2="304.1" y2="89.6" stroke="#555" stroke-width="0.8"/>
<line x1="308.0" y1="88.5" x2="308.0" y2="89.6" stroke="#555" stroke-width="0.8"/>
<line x1="310.7" y1="88.5" x2="310.7" y2="89.6" stroke="#555" stroke-width="0.8"/>
<line x1="312.9" y1="88.5" x2="312.9" y2="89.6" stroke="#555" stroke-width="0.8"/>
<line x1="314.6" y1="88.5" x2="314.6" y2="89.6" stroke="#555" stroke-width="0.8"/>
<line x1="316.1" y1="88.5" x2="316.1" y2="89.6" stroke="#555" stroke-width="0.8"/>
<line x1="317.4" y1="88.5" x2="317.4" y2="89.6" stroke="#555" stroke-width="0.8"/>
<line x1="318.5" y1="88.5" x2="318.5" y2="89.6" stroke="#555" stroke-width="0.8"/>
<line x1="319.5" y1="88.5" x2="319.5" y2="90.3" stroke="#555" stroke-width="0.8"/>
<line x1="326.1" y1="88.5" x2="326.1" y2="89.6" stroke="#555" stroke-width="0.8"/>
<line x1="330.0" y1="88.5" x2="330.0" y2="89.6" stroke="#555" stroke-width="0.8"/>
<line x1="332.7" y1="88.5" x2="332.7" y2="89.6" stroke="#555" stroke-width="0.8"/>
<line x1="334.9" y1="88.5" x2="334.9" y2="89.6" stroke="#555" stroke-width="0.8"/>
<line x1="336.6" y1="88.5" x2="336.6" y2="89.6" stroke="#555" stroke-width="0.8"/>
<line x1="338.1" y1="88.5" x2="338.1" y2="89.6" stroke="#555" stroke-width="0.8"/>
<line x1="339.4" y1="88.5" x2="339.4" y2="89.6" stroke="#555" stroke-width="0.8"/>
<line x1="340.5" y1="88.5" x2="340.5" y2="89.6" stroke="#555" stroke-width="0.8"/>
<line x1="341.5" y1="88.5" x2="341.5" y2="90.3" stroke="#555" stroke-width="0.8"/>
<line x1="348.1" y1="88.5" x2="348.1" y2="89.6" stroke="#555" stroke-width="0.8"/>
<line x1="352.0" y1="88.5" x2="352.0" y2="89.6" stroke="#555" stroke-width="0.8"/>
<line x1="354.7" y1="88.5" x2="354.7" y2="89.6" stroke="#555" stroke-width="0.8"/>
<line x1="356.9" y1="88.5" x2="356.9" y2="89.6" stroke="#555" stroke-width="0.8"/>
<line x1="358.6" y1="88.5" x2="358.6" y2="89.6" stroke="#555" stroke-width="0.8"/>
<line x1="360.1" y1="88.5" x2="360.1" y2="89.6" stroke="#555" stroke-width="0.8"/>
<line x1="361.4" y1="88.5" x2="361.4" y2="89.6" stroke="#555" stroke-width="0.8"/>
<line x1="362.5" y1="88.5" x2="362.5" y2="89.6" stroke="#555" stroke-width="0.8"/>
<line x1="275.5" y1="29.9" x2="363.5" y2="29.9" stroke="#a6a6a6" stroke-width="1.6"/>
<line x1="363.5" y1="29.099999999999998" x2="363.5" y2="88.5" stroke="#7c7c7c" stroke-width="1.5"/>
<line x1="275.5" y1="29.099999999999998" x2="275.5" y2="89.1" stroke="#505050" stroke-width="1.3"/>
<line x1="274.9" y1="88.5" x2="364.2" y2="88.5" stroke="#2a2a2a" stroke-width="1.3"/>
<polyline points="379.0,88.5 381.4,88.2 383.5,80.0 384.8,69.0 386.2,55.4 387.6,53.3 388.9,45.8 390.3,49.9 391.7,56.0 393.0,52.0 394.4,49.9 395.8,45.1 397.2,40.3 398.5,36.2 399.9,34.2 401.3,36.2 402.4,41.7 403.7,39.6 404.7,45.8 406.0,52.6 407.4,56.7 408.8,54.0 410.1,62.2 411.5,70.4 412.9,71.8 414.3,70.4 415.6,74.5 417.7,78.6 419.7,81.4 421.8,84.1 423.1,85.5 425.2,82.7 427.2,81.4 430.0,82.7 432.3,85.0 436.2,84.0 440.0,86.0 445.0,87.0 452.0,88.2" fill="none" stroke="#d8262a" stroke-width="1.1" stroke-linejoin="round" stroke-linecap="round"/>
<polyline points="385.5,88.2 388.0,84.0 390.0,79.0 391.7,73.1 393.7,67.7 395.8,49.9 397.8,38.9 399.2,34.8 401.3,38.9 403.3,38.3 405.4,40.3 406.7,48.5 407.8,38.9 408.8,45.8 410.1,55.4 411.5,59.5 413.3,51.3 414.7,59.5 416.3,66.3 418.4,71.8 420.4,74.5 423.1,77.2 425.9,80.0 428.0,80.5 432.0,81.0 436.0,83.0 440.0,84.0 445.0,86.0 452.0,88.2" fill="none" stroke="#2fd62f" stroke-width="1.1" stroke-linejoin="round" stroke-linecap="round"/>
<polyline points="384.8,88.2 386.9,85.5 388.9,81.4 391.0,77.2 392.4,73.1 393.7,69.0 395.1,60.8 396.5,52.6 397.8,47.2 399.2,41.7 400.6,38.9 401.5,41.7 402.6,37.6 404.0,33.5 405.0,41.7 406.0,47.2 407.4,55.4 408.8,53.3 410.1,49.2 411.5,55.4 412.9,59.5 414.3,60.8 415.6,66.3 417.0,69.0 418.4,68.4 419.7,74.5 421.8,77.2 423.8,79.3 425.9,81.4 427.9,79.3 430.0,82.0 432.0,84.1 434.0,83.5 436.2,82.1 439.0,86.0 441.0,84.0 447.0,86.0 456.5,88.2" fill="none" stroke="#111" stroke-width="1.1" stroke-linejoin="round" stroke-linecap="round"/>
<line x1="370.29999999999995" y1="88.5" x2="371.9" y2="88.5" stroke="#666" stroke-width="0.9"/>
<line x1="370.9" y1="83.0" x2="371.9" y2="83.0" stroke="#999" stroke-width="0.8"/>
<line x1="370.29999999999995" y1="77.4" x2="371.9" y2="77.4" stroke="#666" stroke-width="0.9"/>
<line x1="370.9" y1="71.9" x2="371.9" y2="71.9" stroke="#999" stroke-width="0.8"/>
<line x1="370.29999999999995" y1="66.3" x2="371.9" y2="66.3" stroke="#666" stroke-width="0.9"/>
<line x1="370.9" y1="60.8" x2="371.9" y2="60.8" stroke="#999" stroke-width="0.8"/>
<line x1="370.29999999999995" y1="55.3" x2="371.9" y2="55.3" stroke="#666" stroke-width="0.9"/>
<line x1="370.9" y1="49.7" x2="371.9" y2="49.7" stroke="#999" stroke-width="0.8"/>
<line x1="370.29999999999995" y1="44.2" x2="371.9" y2="44.2" stroke="#666" stroke-width="0.9"/>
<line x1="370.9" y1="38.6" x2="371.9" y2="38.6" stroke="#999" stroke-width="0.8"/>
<line x1="370.29999999999995" y1="33.1" x2="371.9" y2="33.1" stroke="#666" stroke-width="0.9"/>
<line x1="371.9" y1="88.5" x2="371.9" y2="90.3" stroke="#555" stroke-width="0.8"/>
<line x1="378.6" y1="88.5" x2="378.6" y2="89.6" stroke="#555" stroke-width="0.8"/>
<line x1="382.5" y1="88.5" x2="382.5" y2="89.6" stroke="#555" stroke-width="0.8"/>
<line x1="385.2" y1="88.5" x2="385.2" y2="89.6" stroke="#555" stroke-width="0.8"/>
<line x1="387.4" y1="88.5" x2="387.4" y2="89.6" stroke="#555" stroke-width="0.8"/>
<line x1="389.1" y1="88.5" x2="389.1" y2="89.6" stroke="#555" stroke-width="0.8"/>
<line x1="390.6" y1="88.5" x2="390.6" y2="89.6" stroke="#555" stroke-width="0.8"/>
<line x1="391.9" y1="88.5" x2="391.9" y2="89.6" stroke="#555" stroke-width="0.8"/>
<line x1="393.0" y1="88.5" x2="393.0" y2="89.6" stroke="#555" stroke-width="0.8"/>
<line x1="394.0" y1="88.5" x2="394.0" y2="90.3" stroke="#555" stroke-width="0.8"/>
<line x1="400.7" y1="88.5" x2="400.7" y2="89.6" stroke="#555" stroke-width="0.8"/>
<line x1="404.6" y1="88.5" x2="404.6" y2="89.6" stroke="#555" stroke-width="0.8"/>
<line x1="407.3" y1="88.5" x2="407.3" y2="89.6" stroke="#555" stroke-width="0.8"/>
<line x1="409.5" y1="88.5" x2="409.5" y2="89.6" stroke="#555" stroke-width="0.8"/>
<line x1="411.2" y1="88.5" x2="411.2" y2="89.6" stroke="#555" stroke-width="0.8"/>
<line x1="412.7" y1="88.5" x2="412.7" y2="89.6" stroke="#555" stroke-width="0.8"/>
<line x1="414.0" y1="88.5" x2="414.0" y2="89.6" stroke="#555" stroke-width="0.8"/>
<line x1="415.1" y1="88.5" x2="415.1" y2="89.6" stroke="#555" stroke-width="0.8"/>
<line x1="416.1" y1="88.5" x2="416.1" y2="90.3" stroke="#555" stroke-width="0.8"/>
<line x1="422.8" y1="88.5" x2="422.8" y2="89.6" stroke="#555" stroke-width="0.8"/>
<line x1="426.7" y1="88.5" x2="426.7" y2="89.6" stroke="#555" stroke-width="0.8"/>
<line x1="429.5" y1="88.5" x2="429.5" y2="89.6" stroke="#555" stroke-width="0.8"/>
<line x1="431.6" y1="88.5" x2="431.6" y2="89.6" stroke="#555" stroke-width="0.8"/>
<line x1="433.4" y1="88.5" x2="433.4" y2="89.6" stroke="#555" stroke-width="0.8"/>
<line x1="434.8" y1="88.5" x2="434.8" y2="89.6" stroke="#555" stroke-width="0.8"/>
<line x1="436.1" y1="88.5" x2="436.1" y2="89.6" stroke="#555" stroke-width="0.8"/>
<line x1="437.3" y1="88.5" x2="437.3" y2="89.6" stroke="#555" stroke-width="0.8"/>
<line x1="438.3" y1="88.5" x2="438.3" y2="90.3" stroke="#555" stroke-width="0.8"/>
<line x1="444.9" y1="88.5" x2="444.9" y2="89.6" stroke="#555" stroke-width="0.8"/>
<line x1="448.8" y1="88.5" x2="448.8" y2="89.6" stroke="#555" stroke-width="0.8"/>
<line x1="451.6" y1="88.5" x2="451.6" y2="89.6" stroke="#555" stroke-width="0.8"/>
<line x1="453.7" y1="88.5" x2="453.7" y2="89.6" stroke="#555" stroke-width="0.8"/>
<line x1="455.5" y1="88.5" x2="455.5" y2="89.6" stroke="#555" stroke-width="0.8"/>
<line x1="457.0" y1="88.5" x2="457.0" y2="89.6" stroke="#555" stroke-width="0.8"/>
<line x1="458.3" y1="88.5" x2="458.3" y2="89.6" stroke="#555" stroke-width="0.8"/>
<line x1="459.4" y1="88.5" x2="459.4" y2="89.6" stroke="#555" stroke-width="0.8"/>
<line x1="371.9" y1="29.9" x2="460.4" y2="29.9" stroke="#a6a6a6" stroke-width="1.6"/>
<line x1="460.4" y1="29.099999999999998" x2="460.4" y2="88.5" stroke="#7c7c7c" stroke-width="1.5"/>
<line x1="371.9" y1="29.099999999999998" x2="371.9" y2="89.1" stroke="#505050" stroke-width="1.3"/>
<line x1="371.29999999999995" y1="88.5" x2="461.09999999999997" y2="88.5" stroke="#2a2a2a" stroke-width="1.3"/>
<polyline points="290.6,166.8 293.7,159.8 296.0,144.5 297.5,136.8 299.0,133.7 300.3,140.0 301.6,133.5 302.9,129.0 304.5,121.4 306.0,119.8 307.5,115.2 309.1,117.5 310.6,114.5 312.2,122.9 313.7,129.0 315.2,136.0 316.8,138.3 318.3,136.8 319.8,141.4 322.2,143.7 323.7,147.5 325.2,152.2 326.8,151.4 329.1,155.2 331.4,158.3 333.7,160.6 336.0,161.4 338.3,162.9 341.4,163.7 344.5,164.5 347.5,165.2 350.6,166.8" fill="none" stroke="#d8262a" stroke-width="1.1" stroke-linejoin="round" stroke-linecap="round"/>
<polyline points="292.2,166.8 295.2,158.3 298.3,144.5 300.6,136.8 302.9,131.4 304.5,124.5 306.0,119.8 307.5,116.8 309.1,112.2 310.6,118.3 312.2,122.9 314.5,122.9 316.8,121.4 319.1,120.6 321.1,121.4 322.9,126.0 325.2,129.0 326.8,132.9 329.1,139.8 331.4,143.0 333.7,147.5 336.0,150.6 338.3,155.2 340.6,158.3 343.7,160.6 347.5,161.4 350.6,163.7 354.5,166.0 359.8,166.8" fill="none" stroke="#2fd62f" stroke-width="1.1" stroke-linejoin="round" stroke-linecap="round"/>
<polyline points="291.4,166.8 294.5,162.9 296.8,155.2 299.1,150.6 301.4,141.4 302.9,133.7 304.5,130.6 306.0,129.0 307.5,122.9 309.1,116.8 310.6,112.9 311.8,119.8 313.4,120.6 315.2,121.4 316.8,126.0 318.3,122.9 319.8,124.5 321.4,129.0 322.9,133.7 324.5,132.2 326.0,138.3 327.5,139.8 329.8,146.0 331.4,145.2 332.9,149.1 335.2,152.2 337.5,156.8 339.8,159.8 342.9,161.4 346.0,162.2 348.3,161.4 350.6,164.5 353.7,166.0 358.3,166.5 361.4,166.8" fill="none" stroke="#111" stroke-width="1.1" stroke-linejoin="round" stroke-linecap="round"/>
<line x1="274.79999999999995" y1="167.6" x2="276.4" y2="167.6" stroke="#666" stroke-width="0.9"/>
<line x1="275.4" y1="162.1" x2="276.4" y2="162.1" stroke="#999" stroke-width="0.8"/>
<line x1="274.79999999999995" y1="156.5" x2="276.4" y2="156.5" stroke="#666" stroke-width="0.9"/>
<line x1="275.4" y1="151.0" x2="276.4" y2="151.0" stroke="#999" stroke-width="0.8"/>
<line x1="274.79999999999995" y1="145.4" x2="276.4" y2="145.4" stroke="#666" stroke-width="0.9"/>
<line x1="275.4" y1="139.9" x2="276.4" y2="139.9" stroke="#999" stroke-width="0.8"/>
<line x1="274.79999999999995" y1="134.4" x2="276.4" y2="134.4" stroke="#666" stroke-width="0.9"/>
<line x1="275.4" y1="128.8" x2="276.4" y2="128.8" stroke="#999" stroke-width="0.8"/>
<line x1="274.79999999999995" y1="123.3" x2="276.4" y2="123.3" stroke="#666" stroke-width="0.9"/>
<line x1="275.4" y1="117.7" x2="276.4" y2="117.7" stroke="#999" stroke-width="0.8"/>
<line x1="274.79999999999995" y1="112.2" x2="276.4" y2="112.2" stroke="#666" stroke-width="0.9"/>
<line x1="276.4" y1="167.6" x2="276.4" y2="169.4" stroke="#555" stroke-width="0.8"/>
<line x1="283.0" y1="167.6" x2="283.0" y2="168.7" stroke="#555" stroke-width="0.8"/>
<line x1="286.8" y1="167.6" x2="286.8" y2="168.7" stroke="#555" stroke-width="0.8"/>
<line x1="289.6" y1="167.6" x2="289.6" y2="168.7" stroke="#555" stroke-width="0.8"/>
<line x1="291.7" y1="167.6" x2="291.7" y2="168.7" stroke="#555" stroke-width="0.8"/>
<line x1="293.4" y1="167.6" x2="293.4" y2="168.7" stroke="#555" stroke-width="0.8"/>
<line x1="294.9" y1="167.6" x2="294.9" y2="168.7" stroke="#555" stroke-width="0.8"/>
<line x1="296.2" y1="167.6" x2="296.2" y2="168.7" stroke="#555" stroke-width="0.8"/>
<line x1="297.3" y1="167.6" x2="297.3" y2="168.7" stroke="#555" stroke-width="0.8"/>
<line x1="298.3" y1="167.6" x2="298.3" y2="169.4" stroke="#555" stroke-width="0.8"/>
<line x1="304.9" y1="167.6" x2="304.9" y2="168.7" stroke="#555" stroke-width="0.8"/>
<line x1="308.7" y1="167.6" x2="308.7" y2="168.7" stroke="#555" stroke-width="0.8"/>
<line x1="311.5" y1="167.6" x2="311.5" y2="168.7" stroke="#555" stroke-width="0.8"/>
<line x1="313.6" y1="167.6" x2="313.6" y2="168.7" stroke="#555" stroke-width="0.8"/>
<line x1="315.3" y1="167.6" x2="315.3" y2="168.7" stroke="#555" stroke-width="0.8"/>
<line x1="316.8" y1="167.6" x2="316.8" y2="168.7" stroke="#555" stroke-width="0.8"/>
<line x1="318.1" y1="167.6" x2="318.1" y2="168.7" stroke="#555" stroke-width="0.8"/>
<line x1="319.2" y1="167.6" x2="319.2" y2="168.7" stroke="#555" stroke-width="0.8"/>
<line x1="320.2" y1="167.6" x2="320.2" y2="169.4" stroke="#555" stroke-width="0.8"/>
<line x1="326.8" y1="167.6" x2="326.8" y2="168.7" stroke="#555" stroke-width="0.8"/>
<line x1="330.6" y1="167.6" x2="330.6" y2="168.7" stroke="#555" stroke-width="0.8"/>
<line x1="333.4" y1="167.6" x2="333.4" y2="168.7" stroke="#555" stroke-width="0.8"/>
<line x1="335.5" y1="167.6" x2="335.5" y2="168.7" stroke="#555" stroke-width="0.8"/>
<line x1="337.2" y1="167.6" x2="337.2" y2="168.7" stroke="#555" stroke-width="0.8"/>
<line x1="338.7" y1="167.6" x2="338.7" y2="168.7" stroke="#555" stroke-width="0.8"/>
<line x1="340.0" y1="167.6" x2="340.0" y2="168.7" stroke="#555" stroke-width="0.8"/>
<line x1="341.1" y1="167.6" x2="341.1" y2="168.7" stroke="#555" stroke-width="0.8"/>
<line x1="342.1" y1="167.6" x2="342.1" y2="169.4" stroke="#555" stroke-width="0.8"/>
<line x1="348.7" y1="167.6" x2="348.7" y2="168.7" stroke="#555" stroke-width="0.8"/>
<line x1="352.5" y1="167.6" x2="352.5" y2="168.7" stroke="#555" stroke-width="0.8"/>
<line x1="355.3" y1="167.6" x2="355.3" y2="168.7" stroke="#555" stroke-width="0.8"/>
<line x1="357.4" y1="167.6" x2="357.4" y2="168.7" stroke="#555" stroke-width="0.8"/>
<line x1="359.1" y1="167.6" x2="359.1" y2="168.7" stroke="#555" stroke-width="0.8"/>
<line x1="360.6" y1="167.6" x2="360.6" y2="168.7" stroke="#555" stroke-width="0.8"/>
<line x1="361.9" y1="167.6" x2="361.9" y2="168.7" stroke="#555" stroke-width="0.8"/>
<line x1="363.0" y1="167.6" x2="363.0" y2="168.7" stroke="#555" stroke-width="0.8"/>
<line x1="276.4" y1="109" x2="364" y2="109" stroke="#a6a6a6" stroke-width="1.6"/>
<line x1="364" y1="108.2" x2="364" y2="167.6" stroke="#7c7c7c" stroke-width="1.5"/>
<line x1="276.4" y1="108.2" x2="276.4" y2="168.2" stroke="#505050" stroke-width="1.3"/>
<line x1="275.79999999999995" y1="167.6" x2="364.7" y2="167.6" stroke="#2a2a2a" stroke-width="1.3"/>
<polyline points="386.5,166.8 388.8,162.0 390.3,150.0 391.5,142.0 393.0,140.0 394.2,139.0 395.4,133.7 396.5,124.0 397.5,117.0 399.0,120.0 400.5,116.0 402.3,112.9 403.5,115.0 404.6,118.3 406.0,116.0 407.7,112.9 409.0,114.0 410.3,119.0 411.5,127.0 412.8,133.0 414.5,134.0 416.0,137.0 418.0,140.0 420.0,144.0 422.0,147.0 424.5,150.0 427.0,154.0 430.0,157.0 433.0,158.5 436.0,160.5 439.0,163.0 442.0,164.5 446.0,165.5 452.0,166.5 457.0,166.8" fill="none" stroke="#d8262a" stroke-width="1.1" stroke-linejoin="round" stroke-linecap="round"/>
<polyline points="386.8,166.8 389.0,163.0 390.5,151.0 392.0,141.0 393.5,140.0 395.0,134.0 396.5,122.0 397.5,117.0 399.0,121.0 400.5,124.0 402.0,121.0 403.8,115.2 405.0,122.0 406.2,131.4 407.3,123.0 408.5,115.2 409.8,119.0 411.0,127.0 412.5,135.0 414.0,138.0 416.0,142.0 418.0,141.0 420.0,145.0 422.0,148.0 424.5,150.0 427.0,155.0 430.0,157.5 433.0,158.0 436.0,160.5 439.0,163.0 442.0,164.5 446.0,165.5 452.0,166.5 457.0,166.8" fill="none" stroke="#2fd62f" stroke-width="1.1" stroke-linejoin="round" stroke-linecap="round"/>
<polyline points="386.2,166.8 388.5,162.9 390.0,149.1 391.1,139.1 392.3,137.5 393.5,141.4 395.1,130.6 396.2,119.8 397.2,114.5 398.5,117.5 399.7,121.4 400.8,129.0 401.8,132.2 403.1,121.4 404.3,116.8 405.4,119.8 406.5,122.9 407.7,116.8 408.9,113.7 410.0,118.3 411.2,126.0 412.3,132.9 413.5,132.2 414.6,127.5 415.7,135.2 416.9,139.1 418.5,139.8 420.0,144.5 421.5,147.5 423.1,149.1 424.6,147.5 426.2,148.3 427.7,155.2 430.0,158.3 432.3,157.5 434.2,156.0 436.2,159.8 438.5,163.7 440.8,160.6 443.1,164.5 446.2,164.5 449.2,166.0 453.8,166.5 458.5,166.8" fill="none" stroke="#111" stroke-width="1.1" stroke-linejoin="round" stroke-linecap="round"/>
<line x1="370.2" y1="167.6" x2="371.8" y2="167.6" stroke="#666" stroke-width="0.9"/>
<line x1="370.8" y1="162.1" x2="371.8" y2="162.1" stroke="#999" stroke-width="0.8"/>
<line x1="370.2" y1="156.5" x2="371.8" y2="156.5" stroke="#666" stroke-width="0.9"/>
<line x1="370.8" y1="151.0" x2="371.8" y2="151.0" stroke="#999" stroke-width="0.8"/>
<line x1="370.2" y1="145.4" x2="371.8" y2="145.4" stroke="#666" stroke-width="0.9"/>
<line x1="370.8" y1="139.9" x2="371.8" y2="139.9" stroke="#999" stroke-width="0.8"/>
<line x1="370.2" y1="134.4" x2="371.8" y2="134.4" stroke="#666" stroke-width="0.9"/>
<line x1="370.8" y1="128.8" x2="371.8" y2="128.8" stroke="#999" stroke-width="0.8"/>
<line x1="370.2" y1="123.3" x2="371.8" y2="123.3" stroke="#666" stroke-width="0.9"/>
<line x1="370.8" y1="117.7" x2="371.8" y2="117.7" stroke="#999" stroke-width="0.8"/>
<line x1="370.2" y1="112.2" x2="371.8" y2="112.2" stroke="#666" stroke-width="0.9"/>
<line x1="371.8" y1="167.6" x2="371.8" y2="169.4" stroke="#555" stroke-width="0.8"/>
<line x1="378.5" y1="167.6" x2="378.5" y2="168.7" stroke="#555" stroke-width="0.8"/>
<line x1="382.4" y1="167.6" x2="382.4" y2="168.7" stroke="#555" stroke-width="0.8"/>
<line x1="385.1" y1="167.6" x2="385.1" y2="168.7" stroke="#555" stroke-width="0.8"/>
<line x1="387.3" y1="167.6" x2="387.3" y2="168.7" stroke="#555" stroke-width="0.8"/>
<line x1="389.0" y1="167.6" x2="389.0" y2="168.7" stroke="#555" stroke-width="0.8"/>
<line x1="390.5" y1="167.6" x2="390.5" y2="168.7" stroke="#555" stroke-width="0.8"/>
<line x1="391.8" y1="167.6" x2="391.8" y2="168.7" stroke="#555" stroke-width="0.8"/>
<line x1="392.9" y1="167.6" x2="392.9" y2="168.7" stroke="#555" stroke-width="0.8"/>
<line x1="393.9" y1="167.6" x2="393.9" y2="169.4" stroke="#555" stroke-width="0.8"/>
<line x1="400.6" y1="167.6" x2="400.6" y2="168.7" stroke="#555" stroke-width="0.8"/>
<line x1="404.5" y1="167.6" x2="404.5" y2="168.7" stroke="#555" stroke-width="0.8"/>
<line x1="407.3" y1="167.6" x2="407.3" y2="168.7" stroke="#555" stroke-width="0.8"/>
<line x1="409.4" y1="167.6" x2="409.4" y2="168.7" stroke="#555" stroke-width="0.8"/>
<line x1="411.2" y1="167.6" x2="411.2" y2="168.7" stroke="#555" stroke-width="0.8"/>
<line x1="412.7" y1="167.6" x2="412.7" y2="168.7" stroke="#555" stroke-width="0.8"/>
<line x1="414.0" y1="167.6" x2="414.0" y2="168.7" stroke="#555" stroke-width="0.8"/>
<line x1="415.1" y1="167.6" x2="415.1" y2="168.7" stroke="#555" stroke-width="0.8"/>
<line x1="416.1" y1="167.6" x2="416.1" y2="169.4" stroke="#555" stroke-width="0.8"/>
<line x1="422.8" y1="167.6" x2="422.8" y2="168.7" stroke="#555" stroke-width="0.8"/>
<line x1="426.7" y1="167.6" x2="426.7" y2="168.7" stroke="#555" stroke-width="0.8"/>
<line x1="429.4" y1="167.6" x2="429.4" y2="168.7" stroke="#555" stroke-width="0.8"/>
<line x1="431.6" y1="167.6" x2="431.6" y2="168.7" stroke="#555" stroke-width="0.8"/>
<line x1="433.3" y1="167.6" x2="433.3" y2="168.7" stroke="#555" stroke-width="0.8"/>
<line x1="434.8" y1="167.6" x2="434.8" y2="168.7" stroke="#555" stroke-width="0.8"/>
<line x1="436.1" y1="167.6" x2="436.1" y2="168.7" stroke="#555" stroke-width="0.8"/>
<line x1="437.2" y1="167.6" x2="437.2" y2="168.7" stroke="#555" stroke-width="0.8"/>
<line x1="438.2" y1="167.6" x2="438.2" y2="169.4" stroke="#555" stroke-width="0.8"/>
<line x1="444.9" y1="167.6" x2="444.9" y2="168.7" stroke="#555" stroke-width="0.8"/>
<line x1="448.8" y1="167.6" x2="448.8" y2="168.7" stroke="#555" stroke-width="0.8"/>
<line x1="451.6" y1="167.6" x2="451.6" y2="168.7" stroke="#555" stroke-width="0.8"/>
<line x1="453.7" y1="167.6" x2="453.7" y2="168.7" stroke="#555" stroke-width="0.8"/>
<line x1="455.5" y1="167.6" x2="455.5" y2="168.7" stroke="#555" stroke-width="0.8"/>
<line x1="457.0" y1="167.6" x2="457.0" y2="168.7" stroke="#555" stroke-width="0.8"/>
<line x1="458.3" y1="167.6" x2="458.3" y2="168.7" stroke="#555" stroke-width="0.8"/>
<line x1="459.4" y1="167.6" x2="459.4" y2="168.7" stroke="#555" stroke-width="0.8"/>
<line x1="371.8" y1="109" x2="460.4" y2="109" stroke="#a6a6a6" stroke-width="1.6"/>
<line x1="460.4" y1="108.2" x2="460.4" y2="167.6" stroke="#7c7c7c" stroke-width="1.5"/>
<line x1="371.8" y1="108.2" x2="371.8" y2="168.2" stroke="#505050" stroke-width="1.3"/>
<line x1="371.2" y1="167.6" x2="461.09999999999997" y2="167.6" stroke="#2a2a2a" stroke-width="1.3"/>
<line x1="276" y1="180" x2="425" y2="180" stroke="#000" stroke-width="1.6"/>
<polygon points="424,176.7 431,180.1 424,183.5" fill="#000"/>
<text x="284.5" y="192.2" font-size="9.2" text-anchor="start" font-weight="normal" >FSC</text>
<line x1="468.5" y1="33" x2="490.5" y2="33" stroke="#000" stroke-width="1.8"/>
<line x1="468.5" y1="47.9" x2="490.5" y2="47.9" stroke="#b81e1e" stroke-width="1.8"/>
<line x1="468.5" y1="62.6" x2="490.5" y2="62.6" stroke="#2fd02f" stroke-width="1.8"/>
<text x="497.8" y="37.2" font-size="9.2" text-anchor="start" font-weight="normal" >Cre</text>
<text x="497.8" y="51.4" font-size="9.2" text-anchor="start" font-weight="normal" >rap<tspan font-size="5.6" dy="-2.7">Δ/Δ</tspan></text>
<text x="497.8" y="66" font-size="9.2" text-anchor="start" font-weight="normal" >ric<tspan font-size="5.6" dy="-2.7">Δ/Δ</tspan></text>
</svg>
</body></html>
